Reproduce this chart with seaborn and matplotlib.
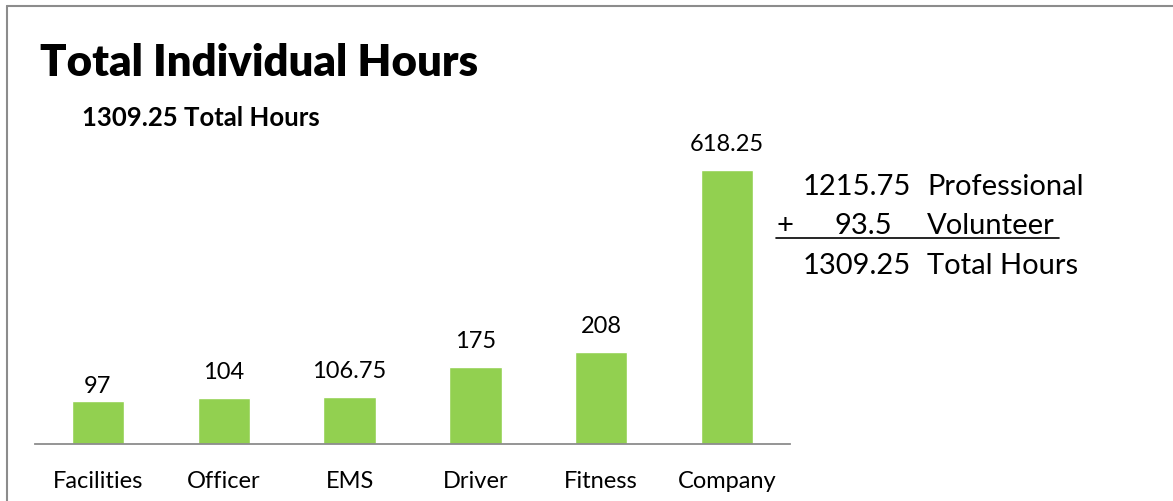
import pandas as pd
import matplotlib.pyplot as plt
import seaborn as sns
from matplotlib.lines import Line2D

# chart data
categories = ["Facilities", "Officer", "EMS", "Driver", "Fitness", "Company"]
hours = [97, 104, 106.75, 175, 208, 618.25]
value_labels = ["97", "104", "106.75", "175", "208", "618.25"]

title = "Total Individual Hours"
subtitle = "1309.25 Total Hours"
summary_nums = ["1215.75", "93.5", "1309.25"]
summary_names = ["Professional", "Volunteer", "Total Hours"]

sns.set_style("white")
plt.rcParams['font.family'] = ['Lato', 'DejaVu Sans']
plt.rcParams['text.color'] = 'black'

df = pd.DataFrame({"category": categories, "hours": hours})

fig = plt.figure(figsize=(11.73, 5.02), dpi=100)
ax = fig.add_axes([35 / 1173, 57 / 502, 755 / 1173, 310 / 502])

sns.barplot(data=df, x="category", y="hours", color="#92D050",
            width=0.415, saturation=1, ax=ax)

ax.set_xlim(-0.5, len(categories) - 0.5)
ax.set_ylim(0, 700)
ax.set_xlabel("")
ax.set_ylabel("")
ax.set_yticks([])
ax.tick_params(axis="x", length=0, labelsize=17, pad=19, colors="black")
for side in ["top", "right", "left"]:
    ax.spines[side].set_visible(False)
ax.spines["bottom"].set_color("#8c8c8c")
ax.spines["bottom"].set_linewidth(1.3)

# value labels above bars
for i, (v, lab) in enumerate(zip(hours, value_labels)):
    off = 11 if i == 0 else 19
    ax.annotate(lab, (i, v), xytext=(0, off), textcoords="offset points",
                ha="center", va="center", fontsize=17)

# title and subtitle
fig.text(40 / 1173, 1 - 63 / 502, title, fontsize=31.5, fontweight="heavy",
         ha="left", va="center")
fig.text(82 / 1173, 1 - 118 / 502, subtitle, fontsize=18.5, fontweight="bold",
         ha="left", va="center")

# summary block on the right
rows_y = [187, 226, 266]
num_x = [857, 863, 857]
for y, nx, num, name in zip(rows_y, num_x, summary_nums, summary_names):
    fig.text(nx / 1173, 1 - y / 502, num, fontsize=21, ha="center", va="center")
    fig.text(927 / 1173, 1 - y / 502, name, fontsize=21, ha="left", va="center")
fig.text(776 / 1173, 1 - 226 / 502, "+", fontsize=21, ha="left", va="center")
fig.add_artist(Line2D([776 / 1173, 1059 / 1173], [1 - 239 / 502, 1 - 239 / 502],
                      color="black", lw=1.2))

# outer border (top and left visible)
fig.add_artist(Line2D([7 / 1173, 1], [1 - 7 / 502, 1 - 7 / 502], color="#8c8c8c", lw=1.5))
fig.add_artist(Line2D([7 / 1173, 7 / 1173], [0, 1 - 7 / 502], color="#8c8c8c", lw=1.5))

fig.savefig("out.png", dpi=100)
